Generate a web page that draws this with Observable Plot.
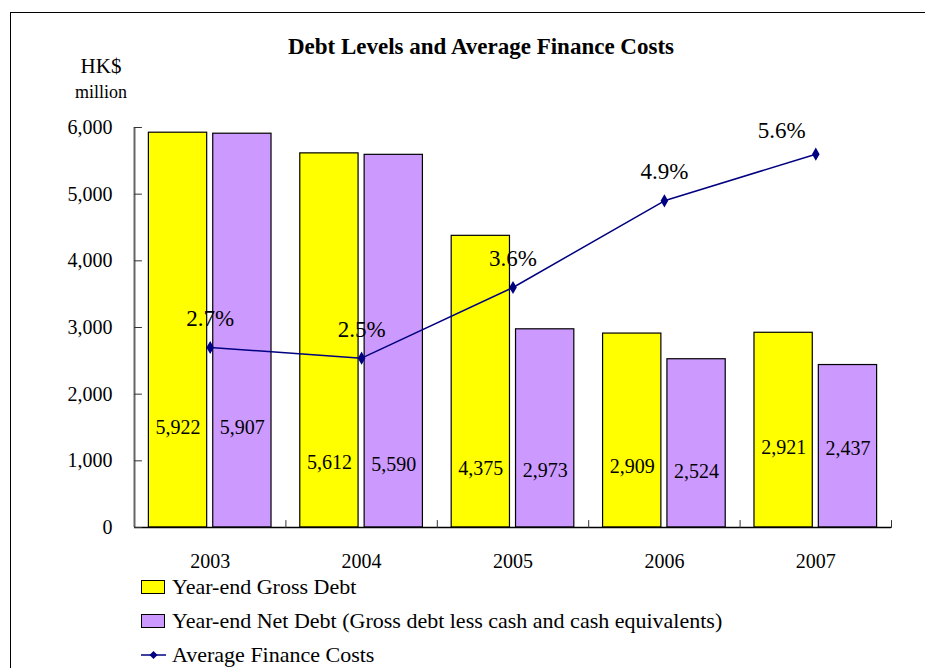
<!DOCTYPE html>
<html>
<head>
<meta charset="utf-8">
<script src="https://cdn.jsdelivr.net/npm/d3@7"></script>
<script src="https://cdn.jsdelivr.net/npm/@observablehq/plot@0.6"></script>
<style>
  html, body { margin: 0; padding: 0; background: #fff; overflow: hidden; }
  body { width: 925px; height: 668px; position: relative; font-family: "Liberation Serif", "Times New Roman", serif; color: #000; }
  #frame { position: absolute; left: 10px; top: 12px; width: 940px; height: 700px; border-left: 1.5px solid #000; border-top: 1.5px solid #000; }
  #title { position: absolute; left: 0; width: 962px; top: 34px; text-align: center; font-weight: bold; font-size: 23px; }
  .yl { position: absolute; left: 53px; width: 96px; text-align: center; line-height: 26px; }
  #chart { position: absolute; left: 0; top: 100px; }
  #chart svg, #chart svg text { font-family: "Liberation Serif", "Times New Roman", serif !important; }
  .leg { position: absolute; left: 141px; height: 28px; display: flex; align-items: center; font-size: 22px; white-space: nowrap; }
  .sw { width: 22px; height: 12px; border: 1.2px solid #000; margin-right: 7px; }
</style>
</head>
<body>
<div id="frame"></div>
<div id="title">Debt Levels and Average Finance Costs</div>
<div class="yl" style="top:53px;font-size:21px">HK$</div>
<div class="yl" style="top:79px;font-size:18px">million</div>
<div id="chart"></div>
<div class="leg" style="top:573px"><div class="sw" style="background:#FFFF00"></div>Year-end Gross Debt</div>
<div class="leg" style="top:607px"><div class="sw" style="background:#CC99FF"></div>Year-end Net Debt (Gross debt less cash and cash equivalents)</div>
<div class="leg" style="top:641px"><svg width="25" height="12" style="margin-right:6px"><line x1="0" y1="6" x2="25" y2="6" stroke="#000080" stroke-width="1.5"/><path d="M12.5,2 L16.5,6 L12.5,10 L8.5,6 Z" fill="#000080"/></svg>Average Finance Costs</div>
<script>
// ---- data ----
const years = ["2003", "2004", "2005", "2006", "2007"];
const grossDebt = [5922, 5612, 4375, 2909, 2921];
const netDebt = [5907, 5590, 2973, 2524, 2437];
const financeCost = [2.7, 2.54, 3.6, 4.9, 5.6]; // percent
const yTicks = [0, 1000, 2000, 3000, 4000, 5000, 6000];

// ---- layout (label anchor heights, in HK$ million units) ----
const grossLabelAt = [1500, 975, 885, 915, 1200];
const netLabelAt = [1500, 945, 855, 840, 1185];

const idx = years.map((_, i) => i);
const bounds = [0.5, 1.5, 2.5, 3.5, 4.5];
const fmt = d3.format(",");
const font = '"Liberation Serif", "Times New Roman", serif';
const tickShape = { draw(context, l) { context.moveTo(0, 0); context.lineTo(0, -l); } };

const chart = Plot.plot({
  width: 925,
  height: 475,
  marginLeft: 134,
  marginRight: 34,
  marginTop: 27,
  marginBottom: 48,
  x: { domain: [-0.5, 4.5], axis: null },
  y: { domain: [0, 6000], axis: null },
  style: { fontFamily: font, fontSize: "20px", color: "#000", background: "transparent", overflow: "visible" },
  marks: [
    Plot.rectY(idx, { x1: i => i - 0.405, x2: i => i - 0.02, y: i => grossDebt[i], fill: "#FFFF00", stroke: "#000", strokeWidth: 1.2 }),
    Plot.rectY(idx, { x1: i => i + 0.02, x2: i => i + 0.405, y: i => netDebt[i], fill: "#CC99FF", stroke: "#000", strokeWidth: 1.2 }),
    Plot.ruleX([-0.5], { stroke: "#666", strokeWidth: 2 }),
    Plot.ruleY([0], { stroke: "#000", strokeWidth: 1.5 }),
    Plot.vector(yTicks, { x: -0.5, y: d => d, length: 7, rotate: 90, anchor: "start", shape: tickShape, stroke: "#333", strokeWidth: 1 }),
    Plot.vector(bounds, { x: d => d, y: 0, length: 7, rotate: 0, anchor: "start", shape: tickShape, stroke: "#333", strokeWidth: 1 }),
    Plot.axisY({ ticks: yTicks, tickSize: 0, tickPadding: 22, tickFormat: fmt, fontSize: 20, fontFamily: font, fontVariant: "normal", label: null }),
    Plot.axisX({ ticks: idx, tickSize: 0, tickPadding: 26, tickFormat: i => years[i], fontSize: 20, fontFamily: font, fontVariant: "normal", label: null }),
    Plot.text(idx, { x: i => i - 0.2125, y: i => grossLabelAt[i], text: i => fmt(grossDebt[i]), fontSize: 20, fontFamily: font, fill: "#000" }),
    Plot.text(idx, { x: i => i + 0.2125, y: i => netLabelAt[i], text: i => fmt(netDebt[i]), fontSize: 20, fontFamily: font, fill: "#000" }),
    Plot.line(idx, { x: i => i, y: i => financeCost[i] * 1000, stroke: "#000080", strokeWidth: 1.5 }),
    Plot.dot(idx, { x: i => i, y: i => financeCost[i] * 1000, symbol: "diamond", r: 4, fill: "#000080", stroke: "none" }),
    Plot.text(idx.slice(0, 4), { x: i => i, y: i => financeCost[i] * 1000, text: i => financeCost[i].toFixed(1) + "%", dy: -29, fontSize: 23, fontFamily: font, fill: "#000" }),
    Plot.text(idx.slice(4), { x: i => i, y: i => financeCost[i] * 1000, text: i => financeCost[i].toFixed(1) + "%", dx: -34, dy: -24, fontSize: 23, fontFamily: font, fill: "#000" })
  ]
});
document.getElementById("chart").appendChild(chart);
</script>
</body>
</html>
